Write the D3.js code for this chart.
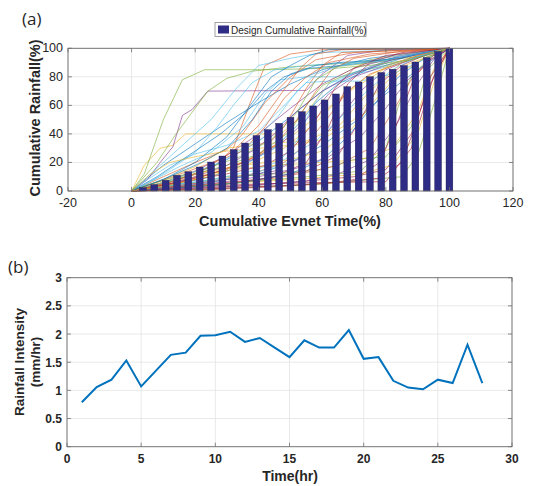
<!DOCTYPE html>
<html>
<head>
<meta charset="utf-8">
<script src="https://cdn.jsdelivr.net/npm/d3@7"></script>
<style>
  body { margin: 0; background: #fff; }
  svg { display: block; }
  text { font-family: "Liberation Sans", Arial, sans-serif; fill: #262626; }
</style>
</head>
<body>
<svg id="chart" width="544" height="486"></svg>
<script>
// design cumulative rainfall (%) at each 1/28 of event time
var designCum = [2.3, 4.4, 7.5, 11, 13.5, 16.8, 20.3, 24.5, 29, 33.6, 38.8, 43, 47.4, 51.6,
    55.6, 59.6, 63.8, 68, 73.1, 76.4, 80.1, 83, 85.3, 87.9, 90.4, 93.5, 97.7, 100];

// hourly design rainfall intensity (mm/hr)
var hours = d3.range(1, 29);
var intensity = [0.79, 1.06, 1.19, 1.53, 1.07, 1.35, 1.63, 1.67, 1.97, 1.98, 2.04, 1.86, 1.93, 1.76,
    1.59, 1.89, 1.76, 1.76, 2.07, 1.56, 1.59, 1.17, 1.05, 1.02, 1.19, 1.13, 1.81, 1.13];

// observed events: [cumulative time %, cumulative rainfall %]
var events = [
    [[0,0],[10,18],[20,33],[30,48],[40,62],[50,75],[60,85],[75,93],[100,100]],
    [[0,0],[15,8],[25,15],[32,30],[37,60],[42,88],[50,96],[60,99],[100,100]],
    [[0,0],[4,18],[9,30],[13,32],[17,40],[47,40],[55,55],[63,78],[75,92],[100,100]],
    [[0,0],[5,8],[9,20],[13,31],[16,53],[19,57],[24,70],[55,70.5],[60,82],[68,95],[80,99],[100,100]],
    [[0,0],[4,12],[10,50],[16,78],[23,85],[45,85],[60,86],[80,91],[100,100]],
    [[0,0],[6,12],[15,30],[25,50],[33,72],[40,88],[50,93],[60,97],[100,100]],
    [[0,0],[20,3],[40,5],[60,6],[80,6.5],[88,30],[95,80],[100,100]],

    [[0,0],[10,5],[20,12],[30,22],[40,35],[50,52],[60,70],[70,83],[80,91],[100,100]],
    [[0,0],[10,10],[20,20],[30,29],[35,40],[42,62],[50,80],[58,92],[70,97],[100,100]],
    [[0,0],[10,3],[20,8],[30,16],[40,25],[50,38],[60,55],[70,72],[80,86],[90,95],[100,100]],
    [[0,0],[10,6],[20,14],[30,25],[40,40],[50,58],[60,75],[70,86],[85,95],[100,100]],
    [[0,0],[8,20],[14,40],[20,58],[24,70],[30,79],[38,84],[50,87],[70,90],[90,94],[100,100]],
    [[0,0],[5,5],[12,15],[20,27],[27,45],[32,60],[38,76],[45,85],[55,88],[70,90],[100,100]],
    [[0,0],[15,2],[30,5],[45,10],[55,20],[62,45],[68,75],[75,90],[85,97],[100,100]],

    [[0,0],[10,2],[25,6],[40,12],[50,20],[60,32],[70,48],[80,68],[90,85],[100,100]],
    [[0,0],[10,4],[20,9],[30,15],[40,25],[48,45],[55,72],[60,88],[66,97],[100,100]],
    [[0,0],[10,8],[20,17],[30,30],[40,33],[55,35],[65,45],[75,70],[85,90],[100,100]],
    [[0,0],[15,4],[30,8],[45,14],[55,25],[65,50],[72,70],[80,85],[90,94],[100,100]],
    [[0,0],[10,3],[20,6],[30,10],[45,12],[60,15],[70,22],[80,24],[88,45],[93,85],[100,100]],
    [[0,0],[8,9],[15,17],[25,27],[35,45],[42,68],[47,78],[55,80],[65,80],[75,84],[90,93],[100,100]],
    [[0,0],[10,1],[30,3],[50,6],[60,8],[70,10],[80,15],[88,40],[94,75],[100,100]],

    [[0,0],[5,4],[12,10],[22,20],[30,30],[38,50],[44,70],[50,82],[58,88],[65,90],[80,92],[100,100]],
    [[0,0],[12,3],[25,7],[38,12],[48,20],[55,33],[62,52],[68,70],[75,82],[85,90],[100,100]],
    [[0,0],[10,5],[20,10],[32,15],[45,18],[60,20],[72,22],[82,30],[90,55],[95,85],[100,100]],
    [[0,0],[12,5],[25,12],[38,22],[48,35],[55,50],[62,68],[70,80],[80,88],[92,96],[100,100]],
    [[0,0],[10,6],[20,12],[30,18],[40,26],[50,42],[55,60],[60,74],[68,82],[80,88],[100,100]],
    [[0,0],[5,8],[12,18],[20,26],[30,32],[40,42],[48,60],[55,76],[62,77],[72,77],[82,82],[92,92],[100,100]],
    [[0,0],[20,4],[40,8],[55,14],[65,25],[72,50],[78,75],[85,88],[93,96],[100,100]],

    [[0,0],[8,10],[18,25],[28,40],[36,55],[42,70],[48,80],[56,86],[66,88],[80,92],[100,100]],
    [[0,0],[15,3],[30,5],[45,9],[55,13],[65,18],[75,30],[82,55],[88,78],[94,92],[100,100]],
    [[0,0],[6,12],[12,20],[20,24],[30,28],[40,30],[50,32],[60,36],[70,50],[78,72],[86,88],[100,100]],
    [[0,0],[20,2],[40,4],[55,7],[65,12],[75,22],[83,45],[90,75],[95,92],[100,100]],
    [[0,0],[10,2],[25,4],[40,7],[55,10],[65,12],[72,14],[80,30],[84,60],[88,80],[94,94],[100,100]],
    [[0,0],[10,3],[20,6],[35,10],[45,17],[52,35],[57,60],[62,75],[70,83],[80,88],[100,100]],
    [[0,0],[25,1],[45,3],[60,5],[70,8],[78,20],[84,50],[89,80],[95,95],[100,100]],

    [[0,0],[15,5],[25,10],[35,18],[45,30],[53,48],[58,62],[65,75],[75,86],[88,95],[100,100]],
    [[0,0],[8,6],[18,14],[28,22],[35,28],[42,45],[48,65],[55,80],[62,90],[75,96],[100,100]],
    [[0,0],[10,2],[20,4],[35,6],[50,8],[62,10],[72,12],[82,18],[90,40],[95,75],[100,100]],
    [[0,0],[10,4],[20,10],[30,18],[38,28],[45,40],[52,56],[60,70],[70,82],[82,92],[100,100]],
    [[0,0],[20,1],[40,3],[60,5],[75,8],[85,10],[90,25],[95,60],[100,100]],
    [[0,0],[12,4],[25,8],[38,14],[48,22],[58,35],[66,52],[74,70],[82,85],[90,94],[100,100]],
    [[0,0],[15,6],[30,12],[42,18],[50,28],[58,50],[64,72],[70,86],[80,95],[100,100]],

    [[0,0],[20,3],[35,6],[50,12],[60,22],[68,38],[76,60],[84,80],[92,93],[100,100]],
    [[0,0],[5,2],[15,6],[25,12],[35,20],[45,32],[52,50],[58,70],[63,85],[70,93],[85,98],[100,100]],
    [[0,0],[8,5],[15,10],[25,14],[35,18],[50,22],[60,28],[68,40],[76,62],[84,82],[92,93],[100,100]],
    [[0,0],[15,3],[28,6],[40,10],[52,16],[62,24],[72,38],[80,58],[87,78],[94,92],[100,100]],
    [[0,0],[6,5],[14,10],[24,16],[34,24],[44,36],[52,55],[58,78],[64,86],[75,88],[88,92],[100,100]],
    [[0,0],[10,6],[18,12],[28,20],[38,34],[46,52],[52,70],[58,82],[66,88],[78,91],[100,100]],
    [[0,0],[30,2],[50,4],[65,6],[78,9],[85,20],[90,50],[94,80],[100,100]],

    [[0,0],[10,8],[20,20],[30,38],[38,62],[44,80],[50,88],[56,95],[62,99],[100,100]],
    [[0,0],[12,6],[22,14],[32,28],[40,46],[47,68],[53,86],[58,96],[66,99],[100,100]],
    [[0,0],[12,4],[24,10],[36,18],[48,30],[58,48],[66,66],[74,80],[82,89],[90,95],[100,100]]
];

var xTicksA = [-20, 0, 20, 40, 60, 80, 100, 120];
var yTicksA = [0, 20, 40, 60, 80, 100];
var xTicksB = [0, 5, 10, 15, 20, 25, 30];
var yTicksB = [0, 0.5, 1, 1.5, 2, 2.5, 3];

var matlabColors = ["#0072BD", "#D95319", "#EDB120", "#7E2F8E", "#77AC30", "#4DBEEE", "#A2142F"];
var barColor = "#2e2c85";

var svg = d3.select("#chart");

// ---------- panel (a) ----------
var xa = d3.scaleLinear().domain([-20, 120]).range([68, 513]);
var ya = d3.scaleLinear().domain([0, 100]).range([191, 48.3]);

var ga = svg.append("g");

ga.append("g").selectAll("line").data(xTicksA).enter().append("line")
    .attr("x1", function(d) { return xa(d); }).attr("x2", function(d) { return xa(d); })
    .attr("y1", ya(0)).attr("y2", ya(100))
    .attr("stroke", "#e3e3e3").attr("stroke-width", 0.8);
ga.append("g").selectAll("line").data(yTicksA).enter().append("line")
    .attr("x1", xa(-20)).attr("x2", xa(120))
    .attr("y1", function(d) { return ya(d); }).attr("y2", function(d) { return ya(d); })
    .attr("stroke", "#e3e3e3").attr("stroke-width", 0.8);

var line = d3.line()
    .x(function(d) { return xa(d[0]); })
    .y(function(d) { return ya(d[1]); });

ga.append("g").selectAll("path").data(events).enter().append("path")
    .attr("d", line)
    .attr("fill", "none")
    .attr("stroke", function(d, i) { return matlabColors[i % 7]; })
    .attr("stroke-width", 0.7)
    .attr("stroke-opacity", 0.85);

var barW = 6.8;
ga.append("g").selectAll("rect").data(designCum).enter().append("rect")
    .attr("x", function(d, i) { return xa(100 * (i + 1) / 28) - barW / 2; })
    .attr("y", function(d) { return ya(d); })
    .attr("width", barW)
    .attr("height", function(d) { return ya(0) - ya(d); })
    .attr("fill", barColor)
    .attr("stroke", "#1a1a4a").attr("stroke-width", 0.4);

function frame(g, x, y, xt, yt) {
    var x0 = x.range()[0], x1 = x.range()[1], y0 = y.range()[0], y1 = y.range()[1];
    g.append("rect").attr("x", x0).attr("y", y1).attr("width", x1 - x0).attr("height", y0 - y1)
        .attr("fill", "none").attr("stroke", "#6e6e6e").attr("stroke-width", 0.9);
    xt.forEach(function(t) {
        g.append("line").attr("x1", x(t)).attr("x2", x(t)).attr("y1", y0).attr("y2", y0 - 4)
            .attr("stroke", "#6e6e6e").attr("stroke-width", 0.8);
        g.append("line").attr("x1", x(t)).attr("x2", x(t)).attr("y1", y1).attr("y2", y1 + 4)
            .attr("stroke", "#6e6e6e").attr("stroke-width", 0.8);
    });
    yt.forEach(function(t) {
        g.append("line").attr("x1", x0).attr("x2", x0 + 4).attr("y1", y(t)).attr("y2", y(t))
            .attr("stroke", "#6e6e6e").attr("stroke-width", 0.8);
        g.append("line").attr("x1", x1).attr("x2", x1 - 4).attr("y1", y(t)).attr("y2", y(t))
            .attr("stroke", "#6e6e6e").attr("stroke-width", 0.8);
    });
}
frame(ga, xa, ya, xTicksA, yTicksA);

ga.append("g").selectAll("text").data(xTicksA).enter().append("text")
    .attr("x", function(d) { return xa(d); }).attr("y", 207)
    .attr("text-anchor", "middle").attr("font-size", 12.5)
    .text(function(d) { return d; });
ga.append("g").selectAll("text").data(yTicksA).enter().append("text")
    .attr("x", 63).attr("y", function(d) { return ya(d) + 4; })
    .attr("text-anchor", "end").attr("font-size", 12.5)
    .text(function(d) { return d; });

ga.append("text").attr("x", 290).attr("y", 226).attr("text-anchor", "middle")
    .attr("font-size", 14.5).attr("font-weight", "bold")
    .text("Cumulative Evnet Time(%)");
ga.append("text").attr("transform", "translate(40,118) rotate(-90)").attr("text-anchor", "middle")
    .attr("font-size", 14.5).attr("font-weight", "bold")
    .text("Cumulative Rainfall(%)");

// legend
var lg = ga.append("g");
lg.append("rect").attr("x", 215).attr("y", 22.5).attr("width", 151).attr("height", 14)
    .attr("fill", "#fff").attr("stroke", "#8a8a8a").attr("stroke-width", 0.8);
lg.append("rect").attr("x", 218).attr("y", 25.5).attr("width", 11).attr("height", 8)
    .attr("fill", barColor);
lg.append("text").attr("x", 231).attr("y", 33.5).attr("font-size", 10)
    .text("Design Cumulative Rainfall(%)");

svg.append("text").attr("x", 22).attr("y", 25).attr("font-size", 17)
    .style("font-family", "'Open Sans', sans-serif").text("(a)");

// ---------- panel (b) ----------
var xb = d3.scaleLinear().domain([0, 30]).range([67, 512]);
var yb = d3.scaleLinear().domain([0, 3]).range([446.7, 277.7]);

var gb = svg.append("g");
gb.append("g").selectAll("line").data(xTicksB).enter().append("line")
    .attr("x1", function(d) { return xb(d); }).attr("x2", function(d) { return xb(d); })
    .attr("y1", yb(0)).attr("y2", yb(3))
    .attr("stroke", "#e3e3e3").attr("stroke-width", 0.8);
gb.append("g").selectAll("line").data(yTicksB).enter().append("line")
    .attr("x1", xb(0)).attr("x2", xb(30))
    .attr("y1", function(d) { return yb(d); }).attr("y2", function(d) { return yb(d); })
    .attr("stroke", "#e3e3e3").attr("stroke-width", 0.8);

gb.append("path")
    .datum(d3.zip(hours, intensity))
    .attr("d", d3.line().x(function(d) { return xb(d[0]); }).y(function(d) { return yb(d[1]); }))
    .attr("fill", "none").attr("stroke", "#0072BD").attr("stroke-width", 2);

frame(gb, xb, yb, xTicksB, yTicksB);

gb.append("g").selectAll("text").data(xTicksB).enter().append("text")
    .attr("x", function(d) { return xb(d); }).attr("y", 463)
    .attr("text-anchor", "middle").attr("font-size", 12).attr("font-weight", "bold")
    .text(function(d) { return d; });
gb.append("g").selectAll("text").data(yTicksB).enter().append("text")
    .attr("x", 62).attr("y", function(d) { return yb(d) + 4.5; })
    .attr("text-anchor", "end").attr("font-size", 12).attr("font-weight", "bold")
    .text(function(d) { return d; });

gb.append("text").attr("x", 290).attr("y", 481).attr("text-anchor", "middle")
    .attr("font-size", 14).attr("font-weight", "bold").text("Time(hr)");
gb.append("text").attr("transform", "translate(24,362) rotate(-90)").attr("text-anchor", "middle")
    .attr("font-size", 13.5).attr("font-weight", "bold").text("Rainfall Intensity");
gb.append("text").attr("transform", "translate(40,362) rotate(-90)").attr("text-anchor", "middle")
    .attr("font-size", 13.5).attr("font-weight", "bold").text("(mm/hr)");

svg.append("text").attr("x", 8).attr("y", 273).attr("font-size", 17)
    .style("font-family", "'Open Sans', sans-serif").text("(b)");
</script>
</body>
</html>
